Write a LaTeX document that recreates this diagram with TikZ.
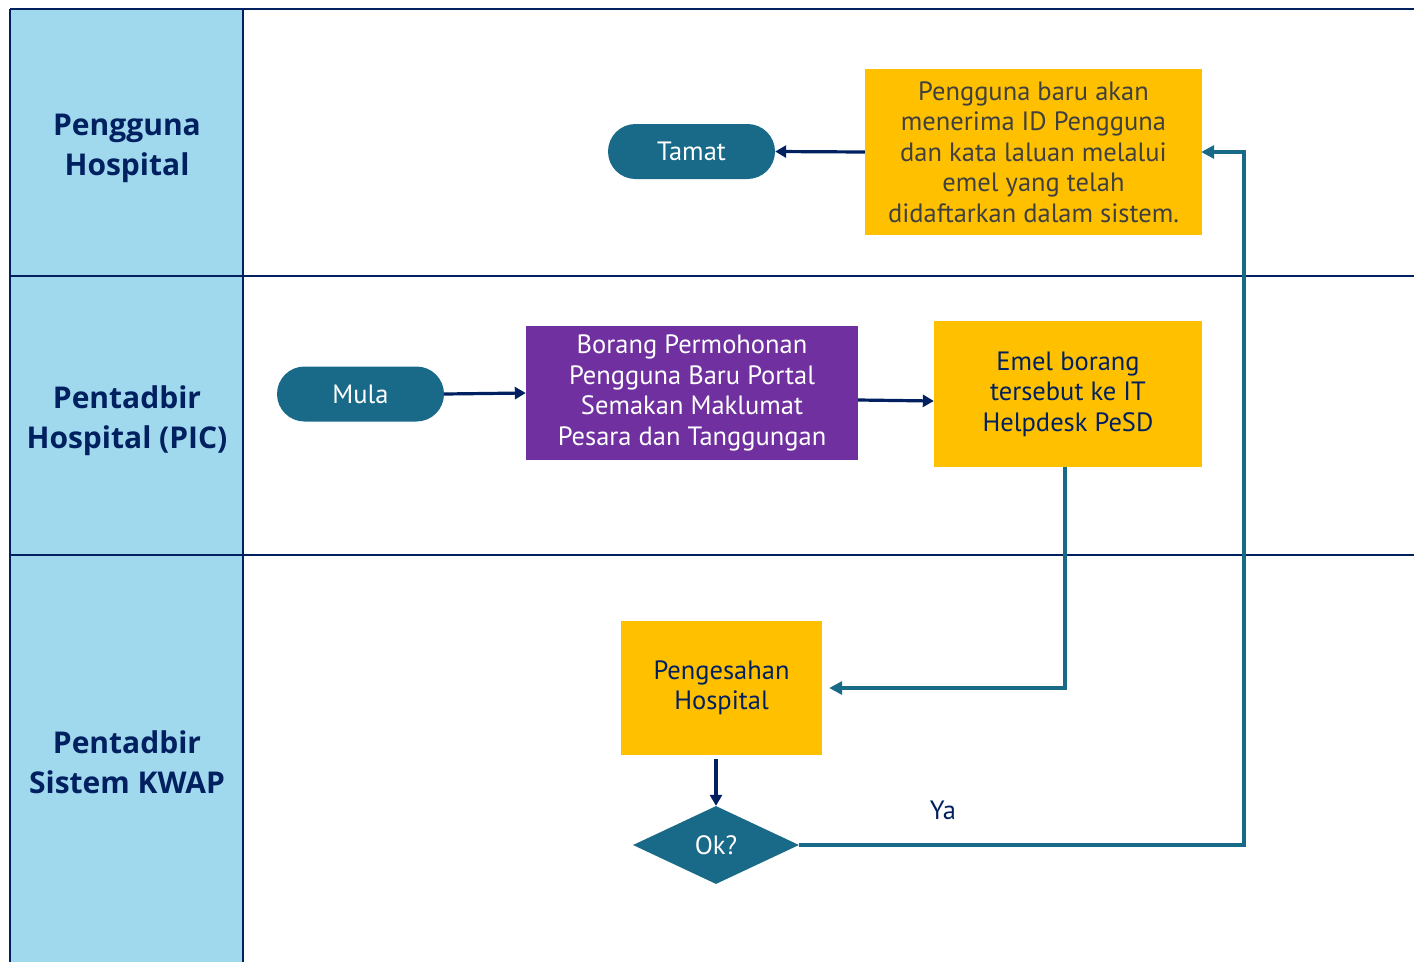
\documentclass[tikz,border=0pt]{standalone}
\usepackage{fontspec}
\setmainfont{PT Sans}
\newfontfamily\lanefont{Open Sans}
\usetikzlibrary{shapes.geometric,arrows.meta}
\definecolor{navy}{HTML}{002060}
\definecolor{lanebg}{HTML}{A0D8EE}
\definecolor{tealc}{HTML}{186A88}
\definecolor{gold}{HTML}{FFC000}
\definecolor{purp}{HTML}{7030A0}
\definecolor{darkgray}{HTML}{404040}
\tikzset{
  laneline/.style={draw=navy, line width=2.4pt},
  lanelabel/.style={font=\lanefont\bfseries\fontsize{30}{40}\selectfont, text=navy, align=center},
  boxtext/.style={font=\fontsize{26.5}{30.5}\selectfont, align=center, inner sep=0pt},
  terminal/.style={boxtext, fill=tealc, text=white, rounded corners=27.5pt, minimum width=167pt, minimum height=55pt},
  yellowbox/.style={boxtext, fill=gold},
  purplebox/.style={boxtext, fill=purp, text=white},
  decision/.style={boxtext, diamond, fill=tealc, text=white, aspect=2.13, minimum width=166pt, minimum height=78pt},
  navyarrow/.style={draw=navy, line width=3.2pt, -{Triangle[width=12pt,length=11pt]}},
  tealarrow/.style={draw=tealc, line width=3.2pt, -{Triangle[width=13pt,length=13pt]}}
}
\begin{document}
\begin{tikzpicture}[x=1pt,y=-1pt]
\useasboundingbox (0,0) rectangle (1414,962);
% lanes
\fill[lanebg] (10,9) rectangle (243,962);
\draw[laneline] (10,9) -- (1414,9);
\draw[laneline] (10,276) -- (1414,276);
\draw[laneline] (10,555) -- (1414,555);
\draw[laneline] (10,9) -- (10,962);
\draw[laneline] (243,9) -- (243,962);
\node[lanelabel] (lane1) at (127,148) {Pengguna\\Hospital};
\node[lanelabel] (lane2) at (127,421) {Pentadbir\\Hospital (PIC)};
\node[lanelabel] (lane3) at (127,762) {Pentadbir\\Sistem KWAP};
% nodes
\node[terminal] (tamat) at (691.5,151.5) {Tamat};
\node[yellowbox, text=darkgray, minimum width=337pt, minimum height=166pt] (info) at (1033.5,152) {Pengguna baru akan\\menerima ID Pengguna\\dan kata laluan melalui\\emel yang telah\\didaftarkan dalam sistem.};
\node[terminal] (mula) at (360.5,394) {Mula};
\node[purplebox, minimum width=332pt, minimum height=134pt] (borang) at (692,393) {Borang Permohonan\\Pengguna Baru Portal\\Semakan Maklumat\\Pesara dan Tanggungan};
\node[yellowbox, text=navy, minimum width=268pt, minimum height=146pt] (emel) at (1068,394) {Emel borang\\tersebut ke IT\\Helpdesk PeSD};
\node[yellowbox, text=navy, minimum width=201pt, minimum height=134pt] (sah) at (721.5,688) {Pengesahan\\Hospital};
\node[decision] (ok) at (716,845) {Ok?};
\node[boxtext, text=navy] (ya) at (943,810) {Ya};
\coordinate (turn) at (1244,152);
% connectors
\draw[navyarrow] (info.west) -- (tamat.east);
\draw[navyarrow] (mula.east) -- (borang.west);
\draw[navyarrow] ([yshift=-7pt]borang.east) -- ([yshift=-7pt]emel.west);
\draw[tealarrow, shorten >=7pt] ([xshift=-3pt]emel.south) |- (sah.east);
\draw[navyarrow, shorten <=4pt] (sah.south -| ok.north) -- (ok.north);
\draw[tealarrow, shorten >=-1pt] (ok.east) -| (turn) -- (info.east);
\end{tikzpicture}
\end{document}
